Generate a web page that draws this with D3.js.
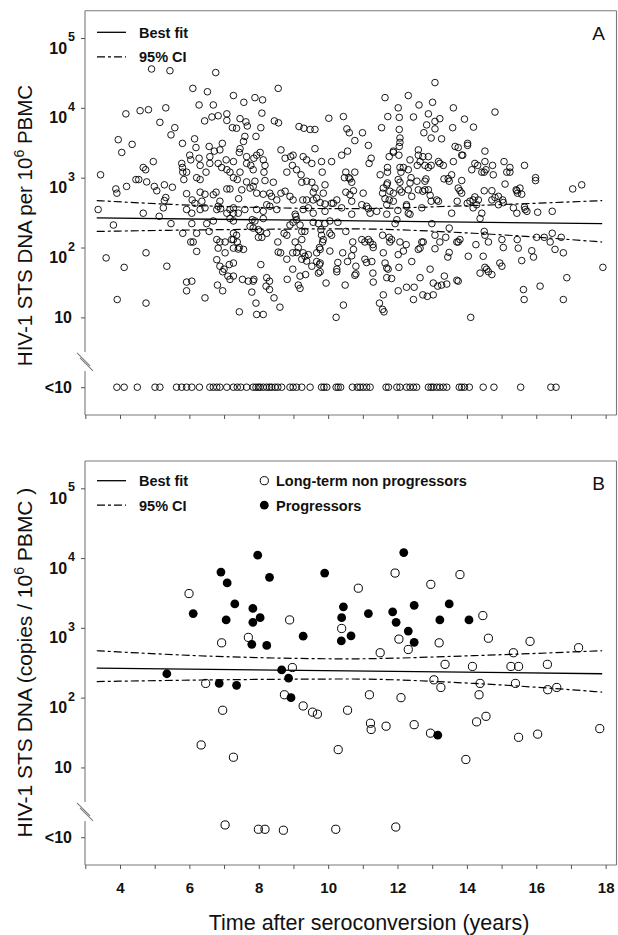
<!DOCTYPE html>
<html><head><meta charset="utf-8">
<script src="https://cdn.jsdelivr.net/npm/d3@7"></script>
<style>
body{margin:0;background:#fff}
svg{display:block}
text{font-family:"Liberation Sans",Arial,Helvetica,sans-serif;fill:#111}
</style>
</head><body>
<svg id="chart" width="618" height="935"></svg>
<script>
// ---------------- DATA ----------------
const xTicks = [3,4,5,6,7,8,9,10,11,12,13,14,15,16,17,18];
const xTickLabels = [4,6,8,10,12,14,16,18];
const yTickValues = [100000,10000,1000,100,10,1];
const yTickBase = ["10","10","10","10","10","<10"];
const yTickExp = ["5","4","3","2","",""];
const undetectableValue = 1;     // the "<10" row
const breakValue = 2.3;          // axis break between 10 and <10

// regression (best fit) and 95% CI, years vs copies/10^6 PBMC
const fitYears = [3.33, 17.9];
const fitDNA = [265, 220];
const ciYears = [3.33, 6.8, 10.6, 14.2, 17.9];
const ciUpper = [470, 390, 360, 400, 470];
const ciLower = [170, 180, 185, 160, 120];

// Panel A: all samples [years after seroconversion, copies per 10^6 PBMC]
const panelA = [
[4.91,36000],[5.44,34000],[6.76,32000],[6.10,19000],[6.52,17000],[8.56,19000],[6.28,11000],[6.69,11000],[7.27,15000],[7.57,12000],
[7.89,14000],[8.11,13000],[4.17,8200],[4.58,9100],[4.82,9400],[5.32,10000],[5.15,6200],[5.58,5200],[5.47,4100],[6.44,6500],
[6.65,7400],[6.83,7700],[7.08,8200],[7.08,6600],[7.24,5200],[7.36,5100],[7.46,7000],[7.63,6300],[7.67,5500],[8.09,8400],
[8.06,5200],[7.92,3900],[7.60,3900],[8.45,6500],[8.57,6100],[9.16,5400],[9.30,5100],[3.95,3500],[4.05,2300],[4.35,3000],
[5.80,3100],[6.15,3600],[6.19,2700],[6.01,2100],[5.78,1600],[5.80,1400],[5.81,1200],[5.84,940],[5.92,1200],[6.04,1800],
[6.28,1900],[6.31,1500],[6.21,1000],[6.31,940],[6.48,1200],[6.59,1600],[6.59,2000],[6.72,2400],[6.88,2500],[6.95,3100],
[6.57,2800],[6.83,1600],[6.93,1400],[7.08,1300],[7.06,1800],[7.27,1700],[7.17,1200],[7.27,1000],[7.38,940],[7.46,2600],
[7.44,2300],[7.56,3300],[7.65,2000],[7.65,1600],[7.77,1500],[7.86,1900],[7.94,2100],[8.04,2300],[8.13,1800],[8.18,1500],
[8.15,1200],[7.84,1300],[7.46,1200],[7.65,870],[7.89,890],[8.18,910],[7.84,750],[8.42,860],[8.64,2500],[8.76,1900],
[8.81,1200],[8.92,2000],[8.97,1500],[9.09,1300],[9.22,1100],[9.24,860],[8.99,2100],[9.28,2000],[4.46,940],[4.54,940],
[4.77,870],[4.99,750],[5.06,650],[5.28,790],[5.51,730],[5.32,520],[3.88,690],[3.91,600],[4.19,750],[3.44,1100],
[4.67,1400],[4.74,1300],[4.96,1700],[5.92,590],[6.08,480],[6.31,620],[6.45,580],[6.69,570],[6.77,620],[6.88,460],
[6.36,460],[6.16,430],[7.08,690],[7.17,690],[7.42,500],[7.51,670],[7.75,710],[7.94,600],[8.13,580],[8.32,600],
[8.37,540],[8.52,480],[8.64,600],[8.76,640],[8.90,540],[8.99,480],[9.27,480],[5.28,470],[3.37,350],[4.67,310],
[5.25,370],[5.92,350],[6.07,310],[6.31,350],[6.45,370],[6.79,350],[7.08,310],[7.27,310],[7.60,350],[7.94,350],
[8.13,330],[8.52,350],[9.05,300],[9.43,370],
[13.08,23000],[11.64,14000],[12.31,15000],[14.81,8700],[12.02,10000],[12.62,11000],[13.01,12000],[13.61,10000],[10.02,7100],[10.44,7500],
[11.72,7500],[12.05,7300],[12.46,7400],[12.89,8200],[13.08,6400],[13.22,7000],[12.84,5700],[11.54,5200],[12.05,4900],[13.93,6900],
[14.19,5300],[13.59,5200],
[9.48,4900],[9.62,4900],[10.54,5000],[10.61,4400],[10.99,4400],[12.76,4400],[13.08,5000],[12.97,3700],[13.27,3600],[12.07,3700],
[12.07,3200],[10.77,3400],[11.16,2900],[9.62,2600],[11.88,2400],[12.05,2800],[12.04,2100],[12.6,2500],[12.6,2100],[12.73,2000],
[12.89,2000],[13.66,2800],[13.75,2700],[14.02,3100],[14.02,2900],[13.85,2100],[13.88,2100],[14.52,2400],[10.56,2400],[10.39,2100],
[9.38,1800],[9.53,1600],[9.81,1700],[10.1,1700],[11.24,1900],[11.18,1600],[11.76,2000],[11.88,2300],[12.36,1800],[12.65,1700],
[12.57,1500],[12.79,1500],[13.18,1700],[13.22,1600],[13.32,1500],[13.61,1700],[14.23,1600],[14.31,1500],[14.14,1300],[14.52,1700],
[14.74,1500],[15.07,1700],[15.24,1400],[15.66,1500],[15.98,1000],[15.98,910],[17.05,690],[17.31,790],
[9.38,890],[9.53,860],[9.83,1200],[9.91,790],[9.62,710],[9.57,620],[9.86,600],[9.38,480],[9.57,480],[9.67,510],
[10.1,430],[10.25,480],[10.51,1200],[10.47,1000],[10.6,1000],[10.63,960],[10.68,860],[10.77,1200],[10.51,620],[10.63,570],
[10.73,650],[11.01,600],[10.68,460],[10.97,410],[11.11,390],[11.5,1100],[11.71,1400],[11.71,1200],[11.71,840],[11.69,790],
[11.59,710],[11.57,600],[11.64,500],[11.78,640],[11.88,600],[11.76,480],[11.88,460],[12.07,1400],[12.1,1200],[12.02,940],
[12.07,860],[12.17,1400],[12.31,1300],[12.39,1000],[12.36,840],[12.07,670],[12.12,620],[12.31,670],[12.41,540],[12.26,410],
[12.6,670],[12.73,640],[12.79,670],[12.56,890],[12.79,890],[12.82,960],[12.89,1400],[12.97,1500],[12.89,670],[12.94,560],
[12.97,460],[13.13,480],[13.18,460],[12.7,370],[13.34,960],[13.46,970],[13.56,1100],[13.49,890],[13.75,710],[13.8,650],
[13.85,600],[13.85,910],[13.72,460],[14.01,430],[14.09,460],[14.18,480],[14.23,530],[14.33,480],[14.5,650],[14.72,650],
[14.72,480],[14.81,520],[14.91,540],[15.03,480],[15.05,440],[15.1,810],[15.44,650],[15.46,600],[15.58,580],[14.55,1300],
[14.43,1200],[14.5,1200],[14.76,1100],[15.15,1200],[15.24,1200],[13.56,310],[10.68,300],[11.16,360],[11.21,310],[11.4,330],
[11.69,410],[12.01,340],[12.26,390],[12.31,310],[12.36,300],[14.18,370],[14.28,410],[14.43,310],[15.66,380],[15.68,350],
[15.73,330],[16.04,320],[16.46,330],[15.42,670],[15.53,710],[14.91,410],[15.34,370],[15.44,310],[9.28,350],[9.57,310],
[9.91,330],[10.15,430],[10.39,370],
[3.81,210],[3.6,71],[4.12,52],[3.92,18],[4.75,84],[4.75,16],[5.35,54],[5.13,280],[5.47,220],[5.81,160],
[6.07,220],[6.21,160],[6.04,120],[6.11,120],[6.21,88],[5.92,32],[6.07,33],[5.92,24],[6.45,19],
[6.83,390],[6.9,360],[6.5,220],[6.69,240],[6.57,170],[6.79,130],[6.88,120],[7.03,120],[6.83,98],[6.79,67],
[7.03,84],[6.88,54],[6.96,45],[7.0,49],[7.15,57],[7.27,60],[7.11,39],[7.17,35],[7.27,39],[6.96,24],[6.81,29],
[7.17,350],[7.27,370],[7.41,310],[7.17,260],[7.27,240],[7.27,160],[7.36,150],[7.22,130],[7.38,120],[7.44,100],
[7.27,98],[7.41,95],[7.56,94],[7.27,130],[7.53,35],[7.7,33],[7.84,33],[7.86,35],[7.8,23],[7.44,12],
[7.94,11],[8.13,11],[7.92,16],[8.06,57],[7.75,200],[7.84,190],[7.99,180],[8.04,170],[7.99,140],[8.09,140],
[8.23,410],[8.32,390],[7.81,250],[7.89,240],[8.13,260],[8.23,160],[8.55,120],
[8.23,37],[8.31,25],[8.21,28],[8.31,33],[8.44,19],[8.61,14],[8.56,86],[8.63,84],[8.81,68],[8.82,35],
[8.98,49],[9.14,29],[9.19,26],[8.98,84],[8.73,160],[8.81,150],[8.9,210],[8.99,230],[9.09,250],[9.19,210],
[9.07,280],[9.05,120],[9.14,100],[9.24,130],[9.09,85],[9.28,84],[9.33,75],[9.38,64],[9.35,41],[9.24,170],[9.33,170],
[9.77,440],[9.91,420],[9.57,230],[9.72,220],[9.91,220],[10.05,240],[10.28,230],[9.79,180],[9.81,150],[9.86,130],
[9.84,120],[9.75,100],[10.05,160],[10.1,150],[10.51,170],[11.69,300],[9.43,79],[9.24,68],[9.67,63],[9.75,57],
[9.77,60],[9.53,54],[9.67,84],[9.77,94],[10.05,89],[10.42,84],[10.28,61],[10.56,63],[10.71,120],[10.73,94],
[10.68,76],[9.19,39],
[9.72,43],[9.77,45],[9.94,31],[10.25,49],[10.25,45],[10.49,29],[10.8,42],[10.77,40],[10.8,54],[10.44,15],
[10.23,10],[10.97,130],[11.06,120],[11.21,120],[11.29,110],[11.3,100],[11.06,68],[11.11,61],[11.26,63],[11.16,130],
[11.57,150],[11.78,120],[11.76,140],[11.83,130],[11.59,84],[11.64,60],[11.69,51],[11.73,49],[11.29,43],[11.3,32],
[11.69,37],[11.83,36],[11.59,21],[11.48,16],[11.57,13],[11.61,12],[11.98,250],[11.93,220],
[12.07,120],[12.02,79],[12.17,89],[12.25,110],[12.41,63],[12.04,52],[12.02,24],[12.26,27],[12.48,27],[12.46,18],
[12.74,120],[12.65,98],[12.6,94],[12.7,120],[12.94,49],[12.65,37],[12.73,21],[12.86,20],[13.03,21],[12.99,220],
[13.08,150],[13.03,31],[13.16,28],[13.27,29],[13.42,30],[13.35,39],[13.08,96],[13.22,120],[13.39,140],[13.49,85],
[13.45,73],[13.49,190],
[13.71,120],[13.75,120],[13.8,130],[13.71,34],[13.75,33],[14.04,75],[14.26,110],[14.38,43],[14.52,52],[14.57,49],
[14.62,45],[14.72,41],[14.47,75],[14.5,170],[14.52,150],[14.62,120],[14.11,10],[14.38,260],[15.01,130],[15.05,100],
[14.95,60],[15.01,54],
[15.45,130],[15.48,98],[15.58,65],[15.63,25],[15.65,18],[15.87,90],[15.92,73],[16.01,140],[16.23,140],[16.11,28],
[16.4,120],[16.46,160],[16.54,94],[16.72,140],[16.78,84],[16.88,37],[16.78,18],[17.92,52]
];
// Panel A: samples below detection (<10), years only
const undetectableA = [3.91,4.12,4.5,5.01,5.15,5.63,5.78,5.92,6.07,6.29,6.59,6.69,6.79,6.88,7.08,7.27,7.38,7.48,7.65,7.84,
7.92,7.99,8.04,8.13,8.23,8.31,8.37,8.47,8.55,8.66,8.9,8.99,9.09,9.24,9.48,9.81,9.88,9.96,10.23,10.29,
10.36,10.7,10.84,10.92,11.01,11.11,11.21,11.67,11.74,11.98,12.07,12.26,12.36,12.46,12.55,12.89,12.97,13.03,13.13,13.22,
13.32,13.42,13.78,13.85,13.93,14.07,14.47,14.78,15.55,16.42,16.57];

// Panel B: long-term non progressors (open) and progressors (filled)
const nonProgressors = [
[5.99,3100],[6.93,610],[7.7,730],[8.89,1300],[11.93,6100],[13.8,5800],[10.87,3700],[12.96,4200],[10.39,980],[14.46,1500],
[12.04,690],[12.31,490],[13.2,610],[14.62,710],[15.82,640],[11.5,440],[15.34,440],[17.22,520],[6.47,160],[8.97,270],
[8.74,110],[9.28,76],[9.55,62],[9.69,58],[6.96,66],[6.34,21],[7.27,14],[13.37,300],[14.16,280],[15.27,280],
[15.49,280],[16.32,300],[13.05,180],[13.25,140],[14.38,160],[15.4,160],[16.33,130],[16.59,140],[14.35,110],[11.19,110],
[12.1,100],[10.56,66],[11.22,43],[11.24,35],[11.67,39],[12.48,41],[12.95,31],[14.28,45],[14.55,54],[15.49,27],
[16.04,30],[17.83,36],[10.29,18],[13.97,13]
];
const nonProgressorsUndetectable = [[7.03,1.5],[7.99,1.3],[8.18,1.3],[8.71,1.26],[10.22,1.3],[11.95,1.4]];
const progressors = [
[6.11,1600],[6.91,6300],[7.09,4400],[7.06,1300],[7.31,2200],[7.97,11000],[8.31,5300],[7.83,1900],[8.04,1400],[7.83,1200],
[7.8,580],[8.23,560],[9.28,760],[12.18,12000],[9.9,6100],[10.44,2000],[10.39,1400],[10.38,650],[10.66,770],[11.16,1600],
[11.86,1700],[11.96,1200],[12.48,2100],[13.49,2200],[13.22,1300],[14.06,1300],[12.31,900],[12.48,620],[5.35,220],[6.86,160],
[7.36,150],[8.66,250],[8.86,190],[8.93,100],[13.16,29]
];

// ---------------- LAYOUT ----------------
const svg = d3.select("#chart");
const frameL = 85, frameR = 616.5;
const x = d3.scaleLinear().domain([3, 18.35]).range([85.3, 617.8]);
const yDomain = [0.4, 246000];
const panels = [
  {label:"A", top:10.7, bottom:415, showX:false, letterY:40, titleSize:20.5,
   title:["HIV-1 STS DNA per 10","6"," PBMC"], titleY:225.5},
  {label:"B", top:461, bottom:865, showX:true, letterY:490, titleSize:21,
   title:["HIV-1 STS DNA (copies / 10","6"," PBMC )"], titleY:662.5}
];
const DASH = "8,3,3,3";
const frameColor = "#7a7a7a";

panels.forEach(p => {
  const y = d3.scaleLog().domain(yDomain).range([p.bottom, p.top]);
  const g = svg.append("g");
  const yb = y(breakValue);

  // frame (left side broken)
  const fr = g.append("g").attr("stroke", frameColor).attr("stroke-width", 1.1).attr("fill","none");
  fr.append("line").attr("x1",frameL).attr("x2",frameR).attr("y1",p.top).attr("y2",p.top);
  fr.append("line").attr("x1",frameL).attr("x2",frameR).attr("y1",p.bottom).attr("y2",p.bottom);
  fr.append("line").attr("x1",frameR).attr("x2",frameR).attr("y1",p.top).attr("y2",p.bottom);
  fr.append("line").attr("x1",frameL).attr("x2",frameL).attr("y1",p.top).attr("y2",yb-10);
  fr.append("line").attr("x1",frameL).attr("x2",frameL).attr("y1",yb+9).attr("y2",p.bottom);
  // break slashes
  fr.append("line").attr("x1",frameL-8).attr("y1",yb-9).attr("x2",frameL+5).attr("y2",yb+4);
  fr.append("line").attr("x1",frameL-5).attr("y1",yb-4).attr("x2",frameL+8).attr("y2",yb+9);

  // x axis
  const ax = g.append("g").attr("transform",`translate(0,${p.bottom})`)
    .call(d3.axisBottom(x).tickValues(xTicks).tickSize(4)
      .tickFormat(d => (p.showX && xTickLabels.includes(d)) ? d : ""));
  ax.select(".domain").remove();
  ax.selectAll("line").attr("stroke","#555");
  ax.selectAll("text").attr("y",17.5).attr("font-size",15).attr("font-weight","bold")
    .attr("font-family","Liberation Sans, Arial, sans-serif").attr("fill","#111");

  // y axis
  const ay = g.append("g").attr("transform",`translate(${frameL},0)`)
    .call(d3.axisLeft(y).tickValues(yTickValues).tickSize(4).tickFormat(""));
  ay.select(".domain").remove();
  ay.selectAll("line").attr("stroke","#555");

  yTickValues.forEach((v,i) => {
    const ty = y(v);
    if (yTickExp[i]) {
      const t = g.append("text").attr("text-anchor","end").attr("x",75).attr("y",ty+15.5)
        .attr("font-size",16).attr("font-weight","bold");
      t.append("tspan").text(yTickBase[i]);
      t.append("tspan").attr("font-size",12.5).attr("dy",-12.5).attr("dx",1).text(yTickExp[i]);
    } else {
      g.append("text").attr("text-anchor","end").attr("x",72).attr("y",ty+5.7)
        .attr("font-size",16).attr("font-weight","bold").text(yTickBase[i]);
    }
  });

  // y title
  const tt = g.append("text").attr("transform",`translate(31.5,${p.titleY}) rotate(-90)`)
    .attr("text-anchor","middle").attr("font-size",p.titleSize);
  tt.append("tspan").text(p.title[0]);
  tt.append("tspan").attr("font-size",14).attr("dy",-8).text(p.title[1]);
  tt.append("tspan").attr("dy",8).text(p.title[2]);

  // panel letter
  g.append("text").attr("x",605).attr("y",p.letterY).attr("text-anchor","end")
    .attr("font-size",19).text(p.label);

  // fit lines
  const line = d3.line().x(d => x(d[0])).y(d => y(d[1]));
  const curve = d3.line().x(d => x(d[0])).y(d => y(d[1])).curve(d3.curveMonotoneX);
  g.append("path").attr("d", line(d3.zip(fitYears, fitDNA)))
    .attr("fill","none").attr("stroke","#000").attr("stroke-width",1.3);
  g.append("path").attr("d", curve(d3.zip(ciYears, ciUpper)))
    .attr("fill","none").attr("stroke","#000").attr("stroke-width",1.2).attr("stroke-dasharray",DASH);
  g.append("path").attr("d", curve(d3.zip(ciYears, ciLower)))
    .attr("fill","none").attr("stroke","#000").attr("stroke-width",1.2).attr("stroke-dasharray",DASH);

  // legend for lines
  const lx0 = 97, lx1 = 126;
  const ly1 = p.label === "A" ? 32.3 : 480.7;
  const ly2 = ly1 + 24.5;
  g.append("line").attr("x1",lx0).attr("x2",lx1).attr("y1",ly1).attr("y2",ly1)
    .attr("stroke","#000").attr("stroke-width",1.3);
  g.append("line").attr("x1",lx0).attr("x2",lx1).attr("y1",ly2).attr("y2",ly2)
    .attr("stroke","#000").attr("stroke-width",1.2).attr("stroke-dasharray",DASH);
  g.append("text").attr("x",139).attr("y",ly1+5.3).attr("font-size",14.5).attr("font-weight","bold").text("Best fit");
  g.append("text").attr("x",139).attr("y",ly2+5.3).attr("font-size",14.5).attr("font-weight","bold").text("95% CI");

  if (p.label === "A") {
    g.append("g").selectAll("circle").data(panelA).join("circle")
      .attr("cx", d => x(d[0])).attr("cy", d => y(d[1])).attr("r",3.3)
      .attr("fill","none").attr("stroke","#000").attr("stroke-width",0.9);
    g.append("g").selectAll("circle").data(undetectableA).join("circle")
      .attr("cx", d => x(d)).attr("cy", y(undetectableValue)).attr("r",3.3)
      .attr("fill","none").attr("stroke","#000").attr("stroke-width",0.9);
  } else {
    g.append("g").selectAll("circle").data(nonProgressors.concat(nonProgressorsUndetectable)).join("circle")
      .attr("cx", d => x(d[0])).attr("cy", d => y(d[1])).attr("r",4.1)
      .attr("fill","none").attr("stroke","#000").attr("stroke-width",1);
    g.append("g").selectAll("circle").data(progressors).join("circle")
      .attr("cx", d => x(d[0])).attr("cy", d => y(d[1])).attr("r",4.4)
      .attr("fill","#000");
    // group legend
    g.append("circle").attr("cx",264.3).attr("cy",ly1).attr("r",4.1)
      .attr("fill","none").attr("stroke","#000").attr("stroke-width",1);
    g.append("circle").attr("cx",264.3).attr("cy",ly2).attr("r",4.4).attr("fill","#000");
    g.append("text").attr("x",276).attr("y",ly1+5.3).attr("font-size",14.5).attr("font-weight","bold")
      .text("Long-term non progressors");
    g.append("text").attr("x",276).attr("y",ly2+5.3).attr("font-size",14.5).attr("font-weight","bold")
      .text("Progressors");
    // x title
    svg.append("text").attr("x",369).attr("y",930).attr("text-anchor","middle")
      .attr("font-size",21.5).text("Time after seroconversion (years)");
  }
});
</script>
</body></html>
